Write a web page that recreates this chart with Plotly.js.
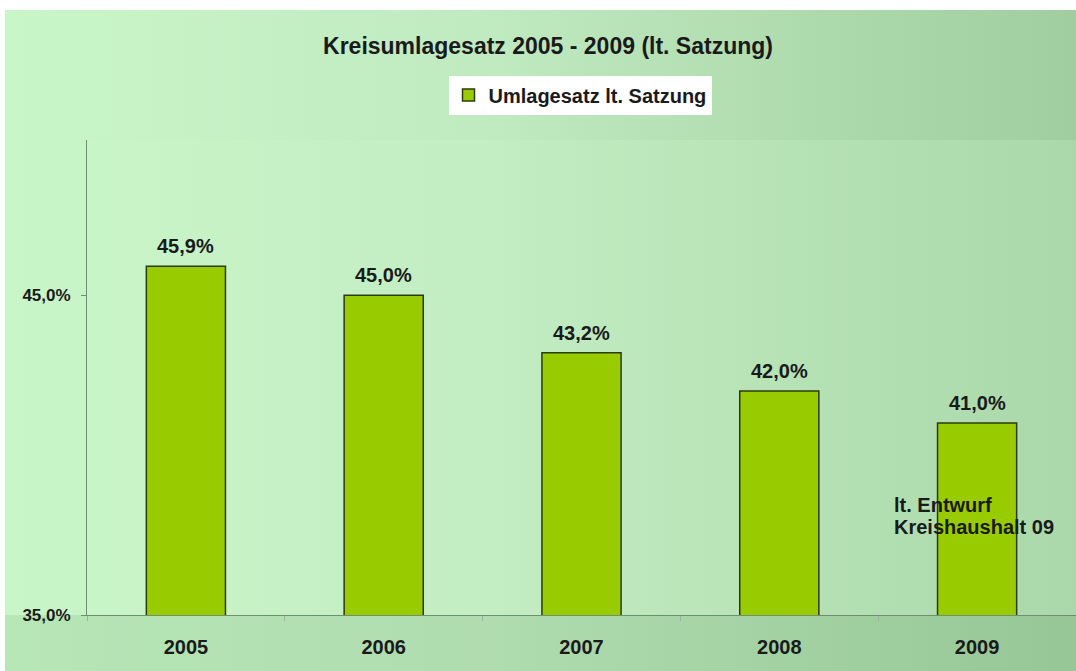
<!DOCTYPE html>
<html>
<head>
<meta charset="utf-8">
<script src="https://cdn.plot.ly/plotly-3.0.1.min.js"></script>
<style>
  html, body { margin: 0; padding: 0; background: #ffffff; }
  #wrap {
    position: absolute; left: 0; top: 0; width: 1076px; height: 671px;
    background: #ffffff;
  }
  #bg {
    position: absolute; left: 5px; top: 10px; right: 0; bottom: 0;
    background: linear-gradient(to right, #c9f6c9 0%, #c0eac0 45%, #abd8ab 80%, #a0cea0 100%);
  }
  #chart { position: absolute; left: 0; top: 0; width: 1076px; height: 671px; }
</style>
</head>
<body>
<div id="wrap">
  <div id="bg"></div>
  <div id="chart"></div>
</div>
<script>
  var years = ["2005", "2006", "2007", "2008", "2009"];
  var rates = [45.9, 45.0, 43.2, 42.0, 41.0];
  var yTicks = [35, 45];
  var seriesName = "Umlagesatz lt. Satzung";
  var noteLines = ["lt. Entwurf", "Kreishaushalt 09"];

  var font = "Liberation Sans, Arial, sans-serif";
  var ink = "#1a1a1a";

  function pct(v) {
    return v.toFixed(1).replace(".", ",") + "%";
  }

  var trace = {
    type: "bar",
    x: years,
    y: rates,
    name: seriesName,
    width: 0.4,
    marker: { color: "#99cc00", line: { color: "#2b3a12", width: 1.5 } },
    hoverinfo: "none",
    showlegend: true,
  };

  // value labels above the bars (category index on the x axis)
  var labels = years.map(function (yr, i) {
    return {
      text: "<b>" + pct(rates[i]) + "</b>",
      x: i, xref: "x",
      y: rates[i], yref: "y",
      yanchor: "bottom",
      yshift: 7,
      showarrow: false,
      font: { family: font, size: 20, color: ink },
    };
  });

  // note on the 2009 bar, one annotation per line
  var notes = noteLines.map(function (line, i) {
    return {
      text: "<b>" + line + "</b>",
      xref: "paper", x: (892 - 87) / 989, xanchor: "left",
      yref: "y", y: 38.09, yanchor: "middle",
      yshift: i === 0 ? 11 : -11,
      align: "left",
      showarrow: false,
      font: { family: font, size: 20, color: ink },
    };
  });

  var layout = {
    width: 1076,
    height: 671,
    margin: { l: 87, r: 0, t: 140, b: 56 },
    paper_bgcolor: "rgba(0,0,0,0)",
    plot_bgcolor: "rgba(205,248,205,0.25)",
    font: { family: font, color: ink },
    title: {
      text: "<b>Kreisumlagesatz 2005 - 2009 (lt. Satzung)</b>",
      font: { family: font, size: 23, color: ink },
      x: 548 / 1076, xanchor: "center",
      y: 1 - 46 / 671, yref: "container", yanchor: "middle",
    },
    showlegend: true,
    legend: {
      orientation: "h",
      x: 580 / 1076, xref: "container", xanchor: "center",
      y: 1 - 95 / 671, yref: "container", yanchor: "middle",
      bgcolor: "#ffffff",
      font: { family: font, size: 20, color: ink, weight: "bold" },
      itemwidth: 30,
    },
    xaxis: {
      type: "category",
      range: [-0.5, 4.5],
      showline: true,
      linecolor: "#6f8f6f",
      linewidth: 1,
      ticks: "outside",
      tickson: "boundaries",
      ticklen: 5,
      tickcolor: "#9ab59a",
      tickangle: 0,
      showgrid: false,
      ticklabelstandoff: 14,
      tickfont: { family: font, size: 20, color: ink, weight: "bold" },
    },
    yaxis: {
      range: [35, 49.85],
      tickmode: "array",
      tickvals: yTicks,
      ticktext: yTicks.map(pct),
      showline: true,
      linecolor: "#6f8f6f",
      linewidth: 1,
      ticks: "outside",
      ticklen: 5,
      tickcolor: "#6f8f6f",
      showgrid: false,
      zeroline: false,
      ticklabelstandoff: 7,
      tickfont: { family: font, size: 17, color: ink, weight: "bold" },
    },
    shapes: [
      {
        type: "rect", xref: "paper", yref: "paper",
        x0: -82 / 989, x1: 1, y0: -56 / 475, y1: 0,
        fillcolor: "rgba(120,175,120,0.22)", line: { width: 0 }, layer: "below",
      },
    ],
    annotations: labels.concat(notes),
  };

  Plotly.newPlot("chart", [trace], layout, { displayModeBar: false, staticPlot: true });
</script>
</body>
</html>
